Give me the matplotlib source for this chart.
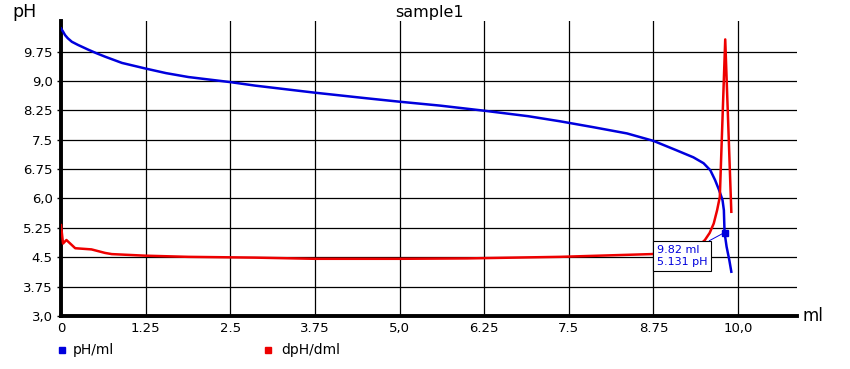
import matplotlib
matplotlib.use("Agg")
import matplotlib.pyplot as plt
from matplotlib.lines import Line2D

# ---- data ----
ph_ml = [0.0, 0.03, 0.06, 0.1, 0.16, 0.25, 0.4, 0.52, 0.65, 0.9, 1.24, 1.55, 1.88, 2.5,
         2.87, 3.75, 4.5, 5.0, 5.6, 6.25, 6.9, 7.37, 7.86, 8.36, 8.75, 9.09, 9.34,
         9.49, 9.59, 9.66, 9.72, 9.77, 9.79, 9.8, 9.83, 9.87, 9.9]
ph_val = [10.34, 10.26, 10.17, 10.09, 10.0, 9.92, 9.8, 9.71, 9.62, 9.46, 9.32, 9.2, 9.1, 8.97,
          8.88, 8.7, 8.56, 8.47, 8.37, 8.24, 8.1, 7.97, 7.82, 7.66, 7.47, 7.23, 7.05,
          6.9, 6.72, 6.47, 6.21, 5.96, 5.7, 5.13, 4.77, 4.43, 4.13]

d_ml = [0.0, 0.03, 0.08, 0.21, 0.45, 0.65, 0.75, 1.24, 1.88, 2.87, 3.75, 5.0,
        6.0, 7.37, 8.72, 9.2, 9.4, 9.51, 9.58, 9.64, 9.69, 9.73, 9.81, 9.9]
d_val = [5.32, 4.85, 4.94, 4.73, 4.70, 4.61, 4.58, 4.54, 4.51, 4.49, 4.46, 4.46,
         4.47, 4.51, 4.58, 4.64, 4.76, 4.94, 5.12, 5.36, 5.7, 6.04, 10.06, 5.66]

marker_ml = 9.82
marker_ph = 5.131

x_ticks = [0, 1.25, 2.5, 3.75, 5.0, 6.25, 7.5, 8.75, 10.0]
x_labels = ["0", "1.25", "2.5", "3.75", "5,0", "6.25", "7.5", "8.75", "10,0"]
y_ticks = [3.0, 3.75, 4.5, 5.25, 6.0, 6.75, 7.5, 8.25, 9.0, 9.75]
y_labels = ["3,0", "3.75", "4.5", "5.25", "6,0", "6.75", "7.5", "8.25", "9,0", "9.75"]

title = "sample1"
series_names = ["pH/ml", "dpH/dml"]
colors = ["#0000dd", "#ee0000"]

# ---- figure ----
fig = plt.figure(figsize=(8.5, 3.69), dpi=100)
ax = fig.add_axes([61/850, 1-316/369, (797-61)/850, (316-21)/369])
ax.set_xlim(0, 10.87)
ax.set_ylim(3.0, 10.53)

ax.plot(ph_ml, ph_val, color=colors[0], lw=1.8, zorder=3, solid_joinstyle="round")
ax.plot(d_ml, d_val, color=colors[1], lw=1.8, zorder=4, solid_joinstyle="round")
ax.plot([marker_ml - 0.02], [marker_ph], marker="s", color=colors[0], ms=4.5, zorder=5)

ax.annotate(f"{marker_ml} ml\n{marker_ph} pH", xy=(marker_ml - 0.02, marker_ph),
            xytext=(8.8, 4.53), textcoords="data", ha="left", va="center",
            fontsize=8, color=colors[0], linespacing=1.25,
            bbox=dict(boxstyle="square,pad=0.35", fc="white", ec="black", lw=0.8),
            arrowprops=dict(arrowstyle="-", color=colors[0], lw=0.7,
                            relpos=(0.88, 1.0), shrinkA=0, shrinkB=0),
            zorder=6)

ax.set_xticks(x_ticks)
ax.set_xticklabels(x_labels)
ax.set_yticks(y_ticks)
ax.set_yticklabels(y_labels)
ax.tick_params(axis="both", labelsize=9.5, colors="black", length=3, width=1, pad=3)
ax.tick_params(axis="x", length=0, pad=4)
ax.grid(True, color="black", lw=0.9)
ax.set_axisbelow(True)
for s in ["top", "right"]:
    ax.spines[s].set_visible(False)
for s in ["left", "bottom"]:
    ax.spines[s].set_linewidth(2.8)

fig.text(429/850, 1-12/369, title, ha="center", va="center", fontsize=11.5)
fig.text(25/850, 1-12/369, "pH", ha="center", va="center", fontsize=12.5)
fig.text(803/850, 1-316/369, "ml", ha="left", va="center", fontsize=12)

# legend
fig.add_artist(Line2D([62/850], [1-350/369], marker="s", ms=4, color=colors[0], ls="none"))
fig.text(73/850, 1-350/369, series_names[0], ha="left", va="center", fontsize=10)
fig.add_artist(Line2D([268/850], [1-350/369], marker="s", ms=4, color=colors[1], ls="none"))
fig.text(281/850, 1-350/369, series_names[1], ha="left", va="center", fontsize=10)

fig.savefig("out.png", dpi=100)
